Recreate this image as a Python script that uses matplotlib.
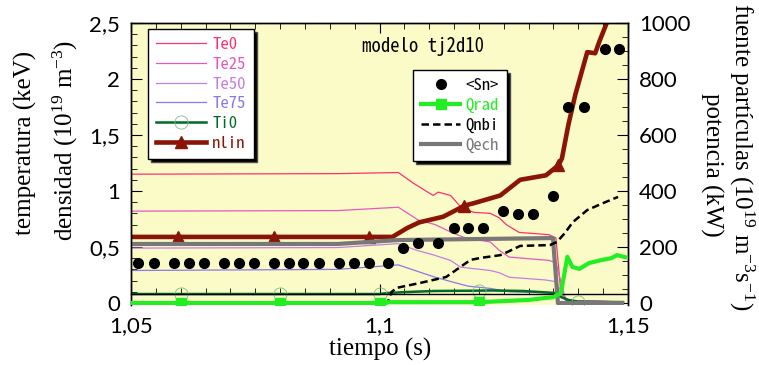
import matplotlib
matplotlib.use("Agg")
import matplotlib.pyplot as plt
from matplotlib.ticker import MultipleLocator, FixedLocator
from matplotlib.lines import Line2D

# ---------------- data ----------------
te0_t = [1.05, 1.0916, 1.1038, 1.1068, 1.1108, 1.1118, 1.1143, 1.1163, 1.1189, 1.1223, 1.1241, 1.1255, 1.1281, 1.1341, 1.1355, 1.1365, 1.138, 1.149]
te0_v = [1.15, 1.155, 1.165, 1.07, 0.96, 0.99, 0.96, 0.86, 0.81, 0.80, 0.76, 0.70, 0.63, 0.61, 0.58, 0.09, 0.02, 0.01]

te25_t = [1.05, 1.0916, 1.1038, 1.1078, 1.1112, 1.1145, 1.1173, 1.1223, 1.1241, 1.1261, 1.1341, 1.1355, 1.1375, 1.149]
te25_v = [0.82, 0.825, 0.855, 0.74, 0.70, 0.63, 0.58, 0.545, 0.47, 0.41, 0.38, 0.36, 0.02, 0.01]

te50_t = [1.05, 1.0916, 1.1038, 1.1075, 1.1108, 1.1143, 1.1163, 1.1223, 1.1241, 1.1261, 1.1335, 1.1355, 1.1375, 1.149]
te50_v = [0.49, 0.495, 0.53, 0.47, 0.43, 0.38, 0.32, 0.29, 0.27, 0.23, 0.205, 0.19, 0.02, 0.01]

te75_t = [1.05, 1.0916, 1.1038, 1.1078, 1.1112, 1.1153, 1.1179, 1.1223, 1.1261, 1.1355, 1.138, 1.149]
te75_v = [0.29, 0.30, 0.34, 0.28, 0.23, 0.18, 0.15, 0.13, 0.10, 0.09, 0.01, 0.01]

ti0_t = [1.05, 1.06, 1.08, 1.10, 1.1016, 1.1056, 1.111, 1.12, 1.1223, 1.1289, 1.1355, 1.1365, 1.138, 1.14, 1.149]
ti0_v = [0.08, 0.08, 0.08, 0.08, 0.089, 0.098, 0.107, 0.11, 0.112, 0.107, 0.089, 0.054, 0.027, 0.012, 0.008]
ti0_marks = [1, 2, 3, 7, 13]

nlin_t = [1.05, 1.0594, 1.0787, 1.0978, 1.1026, 1.1056, 1.1080, 1.1128, 1.1163, 1.1171, 1.1189, 1.1243, 1.1283, 1.1335, 1.136, 1.1367, 1.1380, 1.1394, 1.1406, 1.1418, 1.1434, 1.1442, 1.1458, 1.147]
nlin_v = [0.59, 0.59, 0.59, 0.59, 0.59, 0.67, 0.72, 0.77, 0.85, 0.87, 0.89, 0.96, 1.10, 1.14, 1.23, 1.29, 1.59, 1.86, 2.05, 2.24, 2.23, 2.33, 2.51, 2.62]
nlin_marks = [1, 2, 3, 9, 14]

sn_t = [1.0514, 1.0546, 1.0586, 1.0616, 1.0647, 1.0687, 1.0717, 1.0747, 1.0787, 1.0817, 1.0847, 1.0878, 1.0918, 1.0948, 1.0978, 1.1018,
        1.1048, 1.1078, 1.1118, 1.1149, 1.1179, 1.1209, 1.1249, 1.1279, 1.1309, 1.1349, 1.1380, 1.1412, 1.1454, 1.1482]
sn_v = [143] * 16 + [196, 214, 214, 268, 268, 268, 329, 318, 318, 382, 700, 700, 907, 907]

qrad_t = [1.05, 1.06, 1.08, 1.10, 1.1016, 1.12, 1.1299, 1.1349, 1.1365, 1.1378, 1.1388, 1.1402, 1.1422, 1.1448, 1.1466, 1.1478, 1.1494]
qrad_v = [0, 0, 0, 0, 3, 3, 11, 21, 35, 165, 129, 122, 143, 154, 160, 171, 164]
qrad_marks = [1, 2, 3, 5]

qnbi_t = [1.05, 1.1016, 1.1024, 1.1034, 1.108, 1.1134, 1.1163, 1.1183, 1.1203, 1.1243, 1.1257, 1.1283, 1.1343, 1.1357, 1.1373, 1.1389, 1.1418, 1.145, 1.1480]
qnbi_v = [0, 0, 39, 54, 71, 93, 129, 154, 161, 171, 182, 204, 207, 218, 250, 289, 332, 357, 379]

qech_t = [1.05, 1.0916, 1.1038, 1.1349, 1.1359, 1.1488]
qech_v = [211, 211, 225, 232, 0, 0]

x_ticks = [1.05, 1.10, 1.15]
x_ticklabels = ["1,05", "1,1", "1,15"]
yl_ticks = [0, 0.5, 1.0, 1.5, 2.0, 2.5]
yl_ticklabels = ["0", "0,5", "1", "1,5", "2", "2,5"]
yr_ticks = [0, 200, 400, 600, 800, 1000]
yr_ticklabels = ["0", "200", "400", "600", "800", "1000"]

# ---------------- style ----------------
c_te0 = "#ff3070"
c_te25 = "#e658c0"
c_te50 = "#c77de0"
c_te75 = "#8a78e8"
c_ti0 = "#006a28"
c_nlin = "#8a1405"
c_qrad = "#22ee22"
c_qech = "#787878"
bg = "#fbfbc8"

plt.rcParams['mathtext.fontset'] = 'custom'
plt.rcParams['mathtext.rm'] = 'Liberation Serif'
plt.rcParams['mathtext.it'] = 'Liberation Serif'

W, H = 759, 365
fig = plt.figure(figsize=(W / 100, H / 100), dpi=100)
L, R, T, B = 131, 628, 23, 305
ax = fig.add_axes([L / W, 1 - B / H, (R - L) / W, (B - T) / H])
ax2 = ax.twinx()
ax.set_zorder(1)
ax2.set_zorder(2)
ax.set_facecolor(bg)
ax2.patch.set_visible(False)

ax.set_xlim(1.05, 1.15)
ax.set_ylim(-0.018, 2.5)
ax2.set_ylim(-7, 1000)

# left axis lines
ax.plot(te0_t, te0_v, color=c_te0, lw=0.9)
ax.plot(te25_t, te25_v, color=c_te25, lw=0.9)
ax.plot(te50_t, te50_v, color=c_te50, lw=0.9)
ax.plot(te75_t, te75_v, color=c_te75, lw=0.9)
ax.plot(ti0_t, ti0_v, color=c_ti0, lw=1.8, marker='o', ms=9.5, mfc='none',
        mec='#7fbf7f', mew=0.6, markevery=ti0_marks)
ax.plot(nlin_t, nlin_v, color=c_nlin, lw=3.3, marker='^', ms=9, mfc=c_nlin,
        mec=c_nlin, markevery=nlin_marks)

# right axis lines
ax2.plot(qech_t, qech_v, color=c_qech, lw=3.0, zorder=2)
ax2.plot(qnbi_t, qnbi_v, color='black', lw=1.8, ls=(0, (3, 1.6)), zorder=3)
ax2.plot(qrad_t, qrad_v, color=c_qrad, lw=3.0, marker='s', ms=7, mfc=c_qrad, mec=c_qrad,
         markevery=qrad_marks, zorder=4)
ax2.plot(sn_t, sn_v, ls='none', marker='o', ms=7, color='black', zorder=5)

# ticks / spines
ax.spines['bottom'].set_position(('data', 0.08))
ax2.spines['bottom'].set_visible(False)
for a in (ax, ax2):
    for s in a.spines.values():
        s.set_linewidth(1.0)

tickfont = 'Lato'
ax.xaxis.set_major_locator(FixedLocator(x_ticks))
ax.set_xticklabels(x_ticklabels, fontsize=16, family=tickfont)
ax.xaxis.set_minor_locator(MultipleLocator(0.005))
ax.yaxis.set_major_locator(FixedLocator(yl_ticks))
ax.set_yticklabels(yl_ticklabels, fontsize=16, family=tickfont)
ax.yaxis.set_minor_locator(MultipleLocator(0.1))
ax2.yaxis.set_major_locator(FixedLocator(yr_ticks))
ax2.set_yticklabels(yr_ticklabels, fontsize=16, family=tickfont)
ax2.yaxis.set_minor_locator(MultipleLocator(50))

ax.tick_params(axis='x', which='both', direction='in', top=True, bottom=True, pad=16)
ax.tick_params(axis='x', which='major', length=7)
ax.tick_params(axis='x', which='minor', length=4)
ax.tick_params(axis='y', which='both', direction='in', left=True, right=False, pad=8)
ax.tick_params(axis='y', which='major', length=8)
ax.tick_params(axis='y', which='minor', length=4)
ax2.tick_params(axis='y', which='both', direction='in', pad=8)
ax2.tick_params(axis='y', which='major', length=8)
ax2.tick_params(axis='y', which='minor', length=4)

# axis labels
serif = 'Liberation Serif'
fig.text(25 / W, 1 - 143 / H, "temperatura (keV)", rotation=90, ha='center', va='center',
         fontsize=18, family=serif)
fig.text(65 / W, 1 - 140 / H, r"densidad (10$^{19}$ m$^{-3}$)", rotation=90, ha='center', va='center',
         fontsize=18, family=serif)
fig.text(742 / W, 1 - 157 / H, r"fuente partículas (10$^{19}$ m$^{-3}$s$^{-1}$)", rotation=-90,
         ha='center', va='center', fontsize=18, family=serif)
fig.text(712 / W, 1 - 165 / H, "potencia (kW)", rotation=-90, ha='center', va='center',
         fontsize=18, family=serif)
fig.text(380 / W, 1 - 349 / H, "tiempo (s)", ha='center', va='center', fontsize=18, family=serif)

mono = ['Noto Sans Mono CJK JP', 'DejaVu Sans Mono']
ax2.text((423 - L) / (R - L), (B - 46) / (B - T), "modelo tj2d10", transform=ax2.transAxes,
         ha='center', va='center', fontsize=13.5, family=mono, zorder=6)

# legends (proxy handles)
shadow = {'facecolor': 'black', 'alpha': 1.0}
h1 = [Line2D([], [], color=c_te0, lw=0.9),
      Line2D([], [], color=c_te25, lw=0.9),
      Line2D([], [], color=c_te50, lw=0.9),
      Line2D([], [], color=c_te75, lw=0.9),
      Line2D([], [], color=c_ti0, lw=1.8, marker='o', ms=9.5, mfc='none', mec='#7fbf7f', mew=0.6),
      Line2D([], [], color=c_nlin, lw=3.3, marker='^', ms=9, mfc=c_nlin, mec=c_nlin)]
lab1 = ["Te0", "Te25", "Te50", "Te75", "Ti0", "nlin"]
leg1 = ax2.legend(h1, lab1, loc='upper left',
                  bbox_to_anchor=((148 - L) / (R - L), (B - 29) / (B - T)),
                  prop={'family': mono, 'size': 12}, frameon=True, fancybox=False,
                  edgecolor='black', framealpha=1, shadow=shadow, handlelength=3.0,
                  handletextpad=0.35, labelspacing=0.28, borderpad=0.5, borderaxespad=0,
                  numpoints=1)
leg1.get_frame().set_linewidth(1.0)
for txt, col in zip(leg1.get_texts(), [c_te0, c_te25, c_te50, c_te75, c_ti0, c_nlin]):
    txt.set_color(col)
ax2.add_artist(leg1)

h2 = [Line2D([], [], ls='none', marker='o', ms=7, color='black'),
      Line2D([], [], color=c_qrad, lw=3.0, marker='s', ms=7, mfc=c_qrad, mec=c_qrad),
      Line2D([], [], color='black', lw=1.8, ls=(0, (3, 1.6))),
      Line2D([], [], color=c_qech, lw=3.0)]
lab2 = ["<Sn>", "Qrad", "Qnbi", "Qech"]
leg2 = ax2.legend(h2, lab2, loc='upper left',
                  bbox_to_anchor=((413 - L) / (R - L), (B - 70) / (B - T)),
                  prop={'family': mono, 'size': 12}, frameon=True, fancybox=False,
                  edgecolor='black', framealpha=1, shadow=shadow, handlelength=2.3,
                  handletextpad=0.35, labelspacing=0.28, borderpad=0.5, borderaxespad=0,
                  numpoints=1)
leg2.get_frame().set_linewidth(1.0)
for txt, col in zip(leg2.get_texts(), ['black', c_qrad, 'black', c_qech]):
    txt.set_color(col)
leg1.set_zorder(10)
leg2.set_zorder(10)

fig.savefig("out.png", dpi=100, facecolor='white')
